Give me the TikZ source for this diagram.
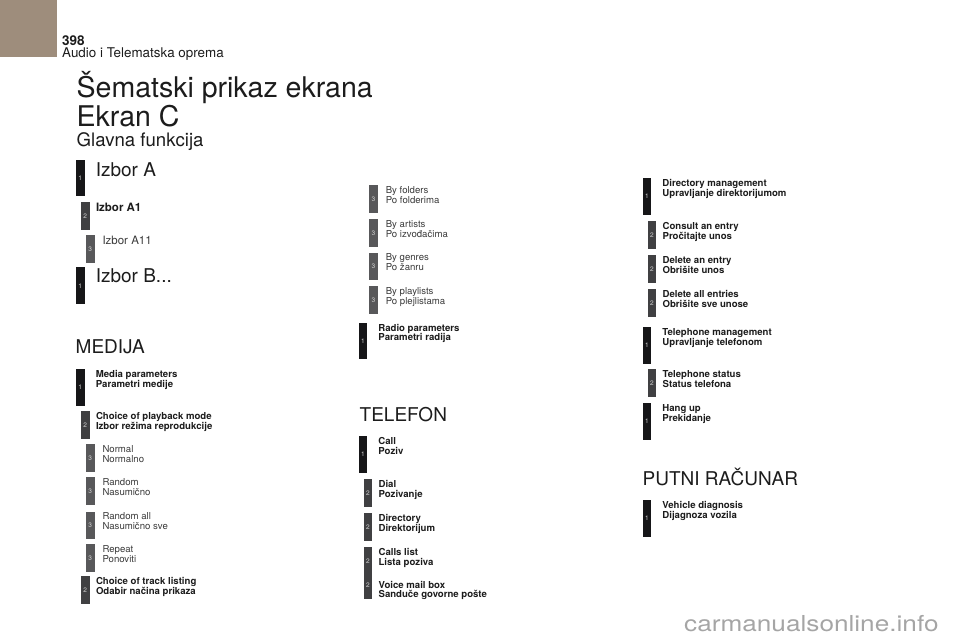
\documentclass[tikz,border=0pt]{standalone}
\usepackage{fontspec}
\usepackage{graphicx}
\setmainfont{TeX Gyre Heros}
\definecolor{tabcol}{RGB}{158,141,124}
\definecolor{levone}{RGB}{22,22,24}
\definecolor{levtwo}{RGB}{64,64,66}
\definecolor{levthree}{RGB}{88,88,90}
\definecolor{numcol}{RGB}{215,215,215}
\definecolor{inkcol}{RGB}{28,28,28}
\definecolor{softink}{RGB}{58,58,58}
\definecolor{wmcol}{RGB}{165,165,165}
\tikzset{
  lev/.style={anchor=north west, inner sep=0pt, minimum width=8.7pt,
    text=numcol, font=\fontsize{6.5}{6.5}\selectfont},
  lev1/.style={lev, fill=levone, minimum height=36.5pt},
  lev2/.style={lev, fill=levtwo, minimum height=27.5pt},
  lev3/.style={lev, fill=levthree, minimum height=27.5pt},
  txt/.style={anchor=north west, inner sep=0pt, align=left, yshift=-1.2pt,
    text=inkcol, font=\fontsize{9.6}{9.9}\selectfont\bfseries},
  txt1/.style={txt, xshift=10.8pt},
  txt2/.style={txt, xshift=6pt},
  txt3/.style={txt, xshift=7.5pt, text=softink, font=\fontsize{9.6}{9.9}\selectfont},
  head/.style={anchor=base west, inner sep=0pt, text=inkcol,
    font=\fontsize{19}{19}\selectfont},
}
\begin{document}
\begin{tikzpicture}[x=1pt,y=-1pt]
  \def\en(#1,#2)#3#4#5{
    \node[lev#3] (#4) at (#1,#2) {#3};
    \node[txt#3] (#4t) at (#4.north east) {#5};
  }
  \useasboundingbox (0,0) rectangle (960,640);
  \fill[tabcol] (0,0) rectangle (57,57);
  % page header
  \node[anchor=base west, inner sep=0pt, text=inkcol, font=\fontsize{13.5}{13.5}\selectfont\bfseries] (page) at (62,45) {398};
  \node[anchor=base west, inner sep=0pt, text=inkcol, font=\fontsize{13.4}{13.4}\selectfont] (chap) at (62,57) {Audio i Telematska oprema};
  \node[anchor=base west, inner sep=0pt, text=inkcol, font=\fontsize{28.5}{28.5}\selectfont] (title) at (76.5,97) {Šematski prikaz ekrana};
  \node[anchor=base west, inner sep=0pt, text=inkcol, font=\fontsize{28.5}{28.5}\selectfont] (screen) at (76.5,126) {Ekran C};
  \node[anchor=base west, inner sep=0pt, text=inkcol, font=\fontsize{18.6}{18.6}\selectfont] (main) at (76.5,146) {Glavna funkcija};
  % legend
  \node[lev1, minimum height=36pt] (ia) at (75.7,160) {1};
  \node[txt1, yshift=-1pt, text=inkcol, font=\fontsize{19}{19}\selectfont] (iat) at (ia.north east) {Izbor A};
  \node[lev2] (iaa) at (80.7,202) {2};
  \node[txt2, font=\fontsize{11.5}{11.5}\selectfont\bfseries] (iaat) at (iaa.north east) {Izbor A1};
  \node[lev3] (iaaa) at (85.7,235) {3};
  \node[txt3, font=\fontsize{11.5}{11.5}\selectfont] (iaaat) at (iaaa.north east) {Izbor A11};
  \node[lev1, minimum height=37pt] (ib) at (75.7,267) {1};
  \node[txt1, text=inkcol, font=\fontsize{19}{19}\selectfont] (ibt) at (ib.north east) {Izbor B...};
  % MEDIJA
  \node[head] (medija) at (75.5,353) {MEDIJA};
  \en(75.7,369)1{mp}{Media parameters\\Parametri medije}
  \en(80.7,411)2{pm}{Choice of playback mode\\Izbor režima reprodukcije}
  \en(85.7,444)3{nor}{Normal\\Normalno}
  \en(85.7,477)3{rnd}{Random\\Nasumično}
  \en(85.7,511.5)3{rnda}{Random all\\Nasumično sve}
  \en(85.7,544)3{rep}{Repeat\\Ponoviti}
  \en(80.7,576)2{tl}{Choice of track listing\\Odabir načina prikaza}
  \en(369,185)3{fol}{By folders\\Po folderima}
  \en(369,219)3{art}{By artists\\Po izvođačima}
  \en(369,252.5)3{gen}{By genres\\Po žanru}
  \en(369,286)3{pl}{By playlists\\Po plejlistama}
  \en(358.3,322.5)1{rp}{Radio parameters\\Parametri radija}
  % TELEFON
  \node[head] (telefon) at (359.5,421) {TELEFON};
  \en(358.3,436)1{call}{Call\\Poziv}
  \en(363.3,479)2{dial}{Dial\\Pozivanje}
  \en(363.3,513)2{dir}{Directory\\Direktorijum}
  \en(363.3,547)2{cl}{Calls list\\Lista poziva}
  \node[lev2, minimum height=26.5pt] (vm) at (363.3,572) {2};
  \node[txt2, yshift=-7.5pt] (vmt) at (vm.north east) {Voice mail box\\Sanduče govorne pošte};
  \en(642.3,178)1{dm}{Directory management\\Upravljanje direktorijumom}
  \en(647.3,221)2{ce}{Consult an entry\\Pročitajte unos}
  \en(647.3,255)2{de}{Delete an entry\\Obrišite unos}
  \en(647.3,289)2{da}{Delete all entries\\Obrišite sve unose}
  \en(642.3,327)1{tm}{Telephone management\\Upravljanje telefonom}
  \en(647.3,369)2{ts}{Telephone status\\Status telefona}
  \en(642.3,403)1{hu}{Hang up\\Prekidanje}
  % PUTNI RAČUNAR
  \node[head] (putni) at (642.5,485) {PUTNI RAČUNAR};
  \en(642.3,500)1{vd}{Vehicle diagnosis\\Dijagnoza vozila}
  \node[anchor=base west, inner sep=0pt, text=wmcol, font=\fontsize{22}{22}\selectfont] (wm) at (684,631) {\scalebox{1.19}[1]{carmanualsonline.info}};
\end{tikzpicture}
\end{document}
